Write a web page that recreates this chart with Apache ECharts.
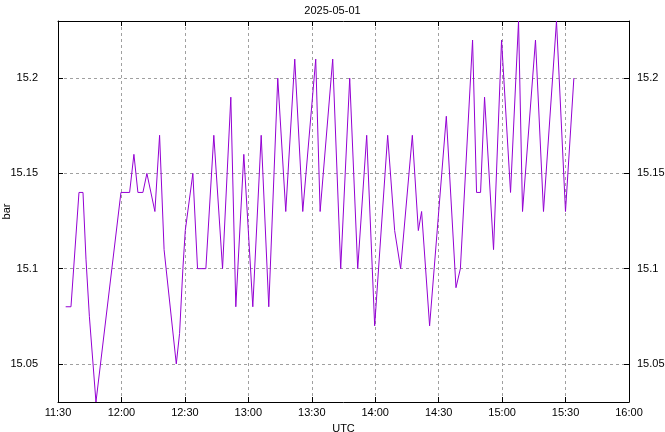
<!DOCTYPE html>
<html>
<head>
<meta charset="utf-8">
<script src="https://cdn.jsdelivr.net/npm/echarts@6/dist/echarts.min.js"></script>
<style>
  html, body { margin: 0; padding: 0; background: #fff; }
  #chart { width: 665px; height: 432px; }
</style>
</head>
<body>
<div id="chart"></div>
<script>
// ---- data ----
const title = "2025-05-01";
const times = ["11:33:38","11:36:08","11:39:55","11:41:49","11:43:14","11:44:50","11:47:57","11:59:46",
  "12:03:52","12:05:54","12:07:47","12:10:09","12:12:02","12:15:49","12:18:02","12:20:10","12:21:07",
  "12:25:56","12:27:29","12:29:03","12:30:11","12:33:46","12:35:59","12:39:55","12:43:41","12:47:48",
  "12:51:43","12:54:05","12:57:52","13:02:07","13:06:05","13:09:40","13:13:55","13:17:42","13:21:57",
  "13:25:44","13:31:52","13:33:57","13:39:54","13:43:41","13:47:56","13:51:43","13:55:58","13:59:44",
  "14:05:53","14:09:11","14:12:01","14:17:33","14:20:23","14:21:56","14:25:43","14:33:37","14:38:11",
  "14:40:16","14:46:02","14:47:55","14:49:49","14:51:42","14:55:57","14:59:44","15:03:59","15:07:46",
  "15:09:39","15:15:47","15:19:34","15:25:43","15:29:58","15:33:56"];
const values = [15.08,15.08,15.14,15.14,15.105,15.075,15.03,15.14,
  15.14,15.16,15.14,15.14,15.15,15.13,15.17,15.11,15.10,
  15.05,15.066,15.10,15.12,15.15,15.10,15.10,15.17,15.10,
  15.19,15.08,15.16,15.08,15.17,15.08,15.20,15.13,15.21,
  15.13,15.21,15.13,15.21,15.10,15.20,15.10,15.17,15.07,
  15.17,15.12,15.10,15.17,15.12,15.13,15.07,15.18,15.09,
  15.10,15.22,15.14,15.14,15.19,15.11,15.22,15.14,15.23,
  15.13,15.22,15.13,15.23,15.13,15.20];
const xTickLabels = ["11:30","12:00","12:30","13:00","13:30","14:00","14:30","15:00","15:30","16:00"];
const yTicks = [15.05, 15.1, 15.15, 15.2];
const yMin = 15.03, yMax = 15.23;

// ---- helpers ----
function toMin(t) { const p = t.split(":").map(Number); return p[0]*60 + p[1] + (p[2]||0)/60; }
const xMin = toMin(xTickLabels[0]), xMax = toMin(xTickLabels[xTickLabels.length-1]);
const seriesData = times.map((t, i) => [toMin(t), values[i]]);
function fmtX(v) {
  const idx = Math.round((v - xMin) / 30);
  return xTickLabels[idx] !== undefined ? xTickLabels[idx] : "";
}

const FONT = "'Liberation Sans Narrow', 'Liberation Sans', sans-serif";
const gridLine = { show: true, lineStyle: { color: '#a0a0a0', type: [3, 3], width: 1 } };
const axisLineStyle = { show: true, lineStyle: { color: '#000', width: 1 } };
const tickStyle = { show: true, inside: true, length: 5, lineStyle: { color: '#000' } };

const chart = echarts.init(document.getElementById('chart'), null, { renderer: 'canvas' });
chart.setOption({
  animation: false,
  backgroundColor: '#fff',
  textStyle: { fontFamily: FONT },
  title: {
    text: title, left: 'center', top: 0,
    textStyle: { fontSize: 11, fontWeight: 'normal', color: '#000', fontFamily: FONT }
  },
  grid: { left: 58, right: 36, top: 21, bottom: 30, containLabel: false, outerBoundsMode: 'none' },
  xAxis: [{
    type: 'value', min: xMin, max: xMax, interval: 30, position: 'bottom',
    name: 'UTC', nameLocation: 'middle', nameGap: 21, nameMoveOverlap: false,
    nameTextStyle: { fontSize: 11, color: '#000', fontFamily: FONT },
    axisLine: axisLineStyle, axisTick: tickStyle,
    axisLabel: { formatter: fmtX, fontSize: 11, color: '#000', margin: 5, fontFamily: FONT },
    splitLine: gridLine
  }, {
    type: 'value', min: xMin, max: xMax, interval: 30, position: 'top',
    axisLine: axisLineStyle, axisTick: tickStyle, axisLabel: { show: false }, splitLine: { show: false }
  }],
  yAxis: [{
    type: 'value', min: yMin, max: yMax, position: 'left',
    name: 'bar', nameLocation: 'middle', nameGap: 46, nameMoveOverlap: false,
    nameTextStyle: { fontSize: 11, color: '#000', fontFamily: FONT },
    axisLine: axisLineStyle,
    axisTick: Object.assign({}, tickStyle, { customValues: yTicks }),
    axisLabel: { customValues: yTicks, fontSize: 11, color: '#000', margin: 20, fontFamily: FONT },
    splitLine: gridLine
  }, {
    type: 'value', min: yMin, max: yMax, position: 'right',
    axisLine: axisLineStyle,
    axisTick: Object.assign({}, tickStyle, { customValues: yTicks }),
    axisLabel: { customValues: yTicks, fontSize: 11, color: '#000', margin: 8, fontFamily: FONT },
    splitLine: { show: false }
  }],
  series: [{
    type: 'line', data: seriesData, xAxisIndex: 0, yAxisIndex: 0,
    showSymbol: false, symbol: 'none',
    lineStyle: { color: '#9400d3', width: 1 },
    clip: true
  }]
});
</script>
</body>
</html>
